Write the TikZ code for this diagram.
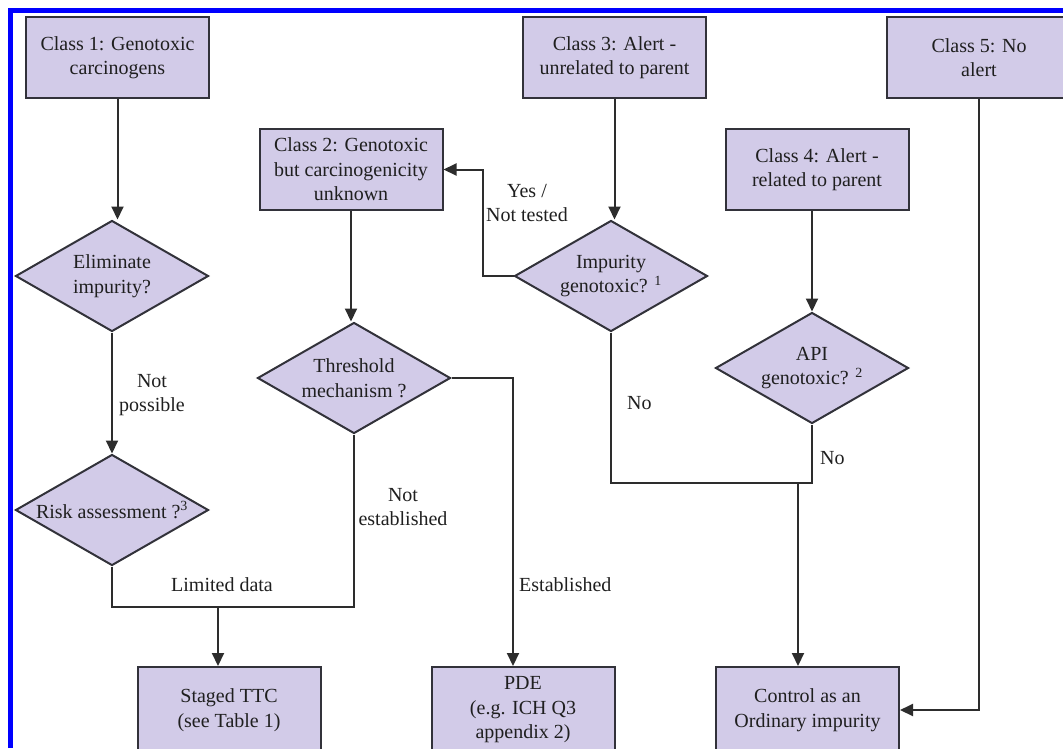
\documentclass[tikz,border=0pt]{standalone}
\usepackage{fontspec}
\setmainfont{Liberation Serif}
\usetikzlibrary{shapes.geometric,arrows.meta}
\begin{document}
\begin{tikzpicture}[x = 1pt, y = -1pt,
  font = \fontsize{20}{24.5}\selectfont,
  classbox/.style = {draw = boxline, fill = boxfill, line width = 2pt, minimum width = 183pt, minimum height = 81pt, inner sep = 0pt, align = center, text = black!88},
  decision/.style = {diamond, draw = boxline, fill = boxfill, line width = 2pt, minimum width = 193pt, minimum height = 111pt, inner sep = 0pt},
  flow/.style = {draw = flowline, line width = 2pt},
  arrow/.style = {flow, -{Triangle[length = 13pt, width = 12pt]}},
  lbl/.style = {align = center, inner sep = 0pt, text = black!88}]
\definecolor{boxfill}{RGB}{210,203,232}
\definecolor{boxline}{RGB}{50,50,58}
\definecolor{flowline}{RGB}{45,45,45}
\definecolor{frameblue}{RGB}{0,0,255}
\useasboundingbox (0,0) rectangle (1063,748);
\clip (0,0) rectangle (1063,748);
\draw[frameblue, line width = 5pt] (10.8,748) -- (10.8,10.8) -- (1063,10.8);
\node[classbox] (class1) at (117.5,57.5) {Class 1: Genotoxic\\carcinogens};
\node[classbox] (class2) at (351,169.5) {Class 2: Genotoxic\\but carcinogenicity\\unknown};
\node[classbox] (class3) at (614.5,57.5) {Class 3: Alert -\\unrelated to parent};
\node[classbox] (class4) at (817,169.5) {Class 4: Alert -\\related to parent};
\node[classbox, minimum width = 184pt] (class5) at (979,57.5) {Class 5: No\\alert};
\node[decision, label = {[lbl]center:Eliminate\\impurity?}] (elim) at (112,276) {};
\node[decision, label = {[lbl]center:Risk assessment ?\textsuperscript{3}}] (risk) at (112,510) {};
\node[decision, label = {[lbl]center:Threshold\\mechanism ?}] (thresh) at (354,378) {};
\node[decision, label = {[lbl]center:Impurity\\genotoxic? \textsuperscript{1}}] (impgen) at (611,276) {};
\node[decision, label = {[lbl]center:API\\genotoxic? \textsuperscript{2}}] (apigen) at (812,368) {};
\node[classbox, minimum height = 86pt] (ttc) at (229,710) {Staged TTC\\(see Table 1)};
\node[classbox, minimum height = 86pt] (pde) at (523,710) {PDE\\(e.g. ICH Q3\\appendix 2)};
\node[classbox, minimum height = 86pt] (ctrl) at (807.5,710) {Control as an\\Ordinary impurity};
\coordinate (ttcjoin) at (218,607);
\coordinate (ctrljoin) at (798,483);
\draw[arrow] (class1.south) -- (class1.south |- elim.north);
\draw[arrow] (elim.south) -- (risk.north);
\draw[flow] (risk.south) |- (ttcjoin);
\draw[flow] (thresh.south) |- (ttcjoin);
\draw[arrow] (ttcjoin) -- (ttcjoin |- ttc.north);
\draw[arrow] (class2.south) -- (class2.south |- thresh.north);
\draw[arrow] (thresh.east) -| ([xshift = -10pt]pde.north);
\draw[arrow] (class3.south) -- (class3.south |- impgen.north);
\draw[arrow] (impgen.west) -- ++(-31,0) |- (class2.east);
\draw[arrow] (class4.south -| apigen.north) -- (apigen.north);
\draw[flow] (impgen.south) |- (apigen.south |- ctrljoin) -- (apigen.south);
\draw[arrow] (ctrljoin) -- (ctrljoin |- ctrl.north);
\draw[arrow] (class5.south) |- (ctrl.east);
\node[lbl] (notpossible) at (152,395) {Not\\possible};
\node[lbl] (yesnottested) at (527,203) {Yes /\\Not tested};
\node[lbl] (notestab) at (403,507) {Not\\established};
\node[lbl] (limited) at (222,585) {Limited data};
\node[lbl, anchor = west] (estab) at (519,585) {Established};
\node[lbl, anchor = west] (noimp) at (627,403) {No};
\node[lbl, anchor = west] (noapi) at (820,458) {No};
\end{tikzpicture}
\end{document}
